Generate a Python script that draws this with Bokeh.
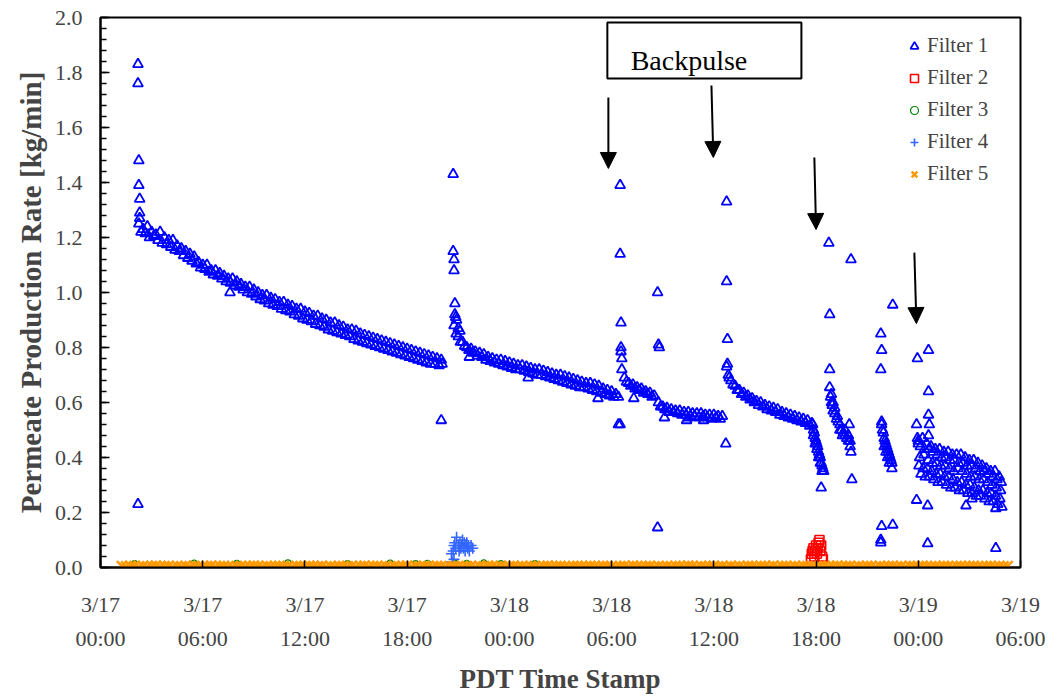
import numpy as np
from bokeh.plotting import figure
from bokeh.models import (Range1d, LinearAxis, FixedTicker, NumeralTickFormatter,
                          Legend, LegendItem, BoxAnnotation, Label, Arrow, NormalHead)
from bokeh.embed import file_html
from bokeh.resources import INLINE

# Time axis is hours since 3/17 00:00 (PDT)
TICK_HOURS = [0, 6, 12, 18, 24, 30, 36, 42, 48, 54]
TICK_DATES = ["3/17", "3/17", "3/17", "3/17", "3/18", "3/18", "3/18", "3/18", "3/19", "3/19"]
TICK_TIMES = ["00:00", "06:00", "12:00", "18:00", "00:00", "06:00", "12:00", "18:00", "00:00", "06:00"]

LOG_STEP_H = 0.25  # data logger interval, hours

# ---- Filter 1 permeate rate [kg/min] ----
# each run is logged by two channels, the second one offset by half an interval
F1_RUN1_START = 2.25
F1_RUN1 = [1.25, 1.23, 1.24, 1.22, 1.21, 1.22, 1.20, 1.19, 1.19, 1.17, 1.16, 1.15,
           1.14, 1.13, 1.11, 1.10, 1.10, 1.08, 1.08, 1.07, 1.06, 1.05, 1.05, 1.04,
           1.03, 1.02, 1.02, 1.01, 1.00, 0.99, 0.99, 0.98, 0.975, 0.965, 0.965, 0.955,
           0.95, 0.94, 0.94, 0.93, 0.925, 0.915, 0.915, 0.905, 0.90, 0.89, 0.89, 0.88,
           0.875, 0.865, 0.865, 0.86, 0.85, 0.845, 0.84, 0.835, 0.83, 0.825, 0.82, 0.815,
           0.81, 0.805, 0.80, 0.795, 0.79, 0.785, 0.78, 0.775, 0.77, 0.765, 0.76, 0.755]
F1_RUN1_B = [1.22, 1.215, 1.20, 1.205, 1.19, 1.18, 1.175, 1.165, 1.155, 1.15, 1.135, 1.125,
             1.115, 1.105, 1.09, 1.085, 1.075, 1.065, 1.06, 1.05, 1.04, 1.035, 1.025, 1.02,
             1.01, 1.00, 0.995, 0.985, 0.975, 0.97, 0.96, 0.955, 0.95, 0.94, 0.935, 0.93,
             0.92, 0.915, 0.905, 0.90, 0.895, 0.885, 0.88, 0.875, 0.865, 0.86, 0.855, 0.85,
             0.845, 0.84, 0.83, 0.825, 0.82, 0.815, 0.81, 0.805, 0.80, 0.795, 0.79, 0.785,
             0.78, 0.775, 0.77, 0.765, 0.76, 0.755, 0.75, 0.745, 0.74, 0.74, 0.735]

F1_RUN2_START = 20.75
F1_RUN2 = [0.88, 0.84, 0.82, 0.80, 0.795, 0.785, 0.78, 0.775, 0.765, 0.76, 0.755, 0.755,
           0.75, 0.745, 0.74, 0.735, 0.735, 0.73, 0.725, 0.72, 0.72, 0.715, 0.71, 0.705,
           0.70, 0.70, 0.695, 0.69, 0.685, 0.68, 0.675, 0.67, 0.67, 0.665, 0.66, 0.65,
           0.645, 0.64, 0.63]
F1_RUN2_B = [0.85, 0.82, 0.805, 0.79, 0.78, 0.77, 0.765, 0.755, 0.75, 0.745, 0.74, 0.735,
             0.73, 0.725, 0.72, 0.72, 0.715, 0.71, 0.705, 0.70, 0.70, 0.695, 0.69, 0.685,
             0.68, 0.675, 0.67, 0.665, 0.66, 0.655, 0.655, 0.65, 0.645, 0.64, 0.635, 0.63,
             0.625, 0.62]

F1_RUN3A_START = 30.75
F1_RUN3A = [0.69, 0.67, 0.665, 0.655, 0.65, 0.64, 0.635, 0.625]
F1_RUN3A_B = [0.675, 0.66, 0.65, 0.645, 0.635, 0.63, 0.62]

F1_RUN3B_START = 32.75
F1_RUN3B = [0.60, 0.585, 0.58, 0.575, 0.57, 0.57, 0.565, 0.565, 0.56, 0.56, 0.56, 0.555,
            0.555, 0.555, 0.55, 0.55]
F1_RUN3B_B = [0.585, 0.575, 0.565, 0.565, 0.56, 0.555, 0.555, 0.55, 0.55, 0.545, 0.55,
              0.545, 0.54, 0.545, 0.54]

F1_RUN4_START = 37.0
F1_RUN4 = [0.68, 0.66, 0.645, 0.635, 0.625, 0.615, 0.605, 0.60, 0.59, 0.585, 0.58, 0.575,
           0.565, 0.56, 0.555, 0.55, 0.545, 0.54, 0.535, 0.525]
F1_RUN4_B = [0.665, 0.645, 0.63, 0.62, 0.61, 0.60, 0.59, 0.585, 0.575, 0.57, 0.565, 0.555,
             0.55, 0.545, 0.54, 0.535, 0.53, 0.525, 0.515]

F1_CLOUD_START = 48.0
F1_CLOUD_HI = [0.46, 0.47, 0.45, 0.44, 0.43, 0.43, 0.42, 0.42, 0.41, 0.41, 0.41, 0.40,
               0.39, 0.39, 0.38, 0.37, 0.36, 0.35, 0.35, 0.33]
F1_CLOUD_HI2 = [0.44, 0.43, 0.43, 0.42, 0.41, 0.40, 0.40, 0.39, 0.39, 0.38, 0.38, 0.37,
                0.37, 0.36, 0.35, 0.35, 0.34, 0.33, 0.32, 0.31]
F1_CLOUD_MID = [0.40, 0.41, 0.39, 0.38, 0.38, 0.37, 0.37, 0.36, 0.35, 0.36, 0.35, 0.34,
                0.33, 0.33, 0.32, 0.32, 0.31, 0.30, 0.29, 0.28]
F1_CLOUD_LO2 = [0.37, 0.36, 0.36, 0.35, 0.34, 0.34, 0.33, 0.33, 0.32, 0.31, 0.31, 0.30,
                0.30, 0.29, 0.28, 0.28, 0.27, 0.27, 0.26, 0.25]
F1_CLOUD_LO = [0.34, 0.33, 0.33, 0.32, 0.31, 0.31, 0.30, 0.29, 0.29, 0.28, 0.28, 0.27,
               0.27, 0.26, 0.26, 0.25, 0.24, 0.24, 0.23, 0.22]

# irregular readings: start-up spikes, post-backpulse transients and outliers
F1_EXTRA_T = [2.2, 2.2, 2.25, 2.25, 2.3, 2.3, 2.3, 2.2, 7.6, 20.0, 20.05,
              20.7, 20.7, 20.75, 20.75, 20.8, 20.8, 20.85, 20.9, 21.0, 21.1, 21.65, 25.1, 29.2,
              30.4, 30.4, 30.5, 30.5, 30.55, 30.55, 30.55, 30.6, 30.6, 30.5, 31.3,
              32.7, 32.75, 32.8, 32.7, 33.1, 34.4, 34.5, 35.4,
              36.75, 36.75, 36.8, 36.8, 36.75, 36.7, 36.85, 36.9,
              41.8, 41.85, 41.9, 41.95, 42.0, 42.05, 42.1, 42.15, 42.2, 42.25, 42.3, 42.35,
              42.4, 42.45, 42.3, 41.85, 41.95, 42.05, 42.15, 42.25, 42.35,
              42.75, 42.8, 42.8, 42.8, 42.85, 42.9, 42.95, 43.0, 43.1, 43.2, 43.3, 43.4,
              43.5, 43.6, 43.7, 43.8, 43.9, 44.0, 44.05, 42.9, 43.0, 43.1, 43.25, 43.4,
              43.55, 43.7, 43.9, 44.0, 44.05, 43.95, 44.1,
              45.8, 45.85, 45.8, 45.85, 45.85, 45.9, 45.95, 46.0, 46.05, 46.1, 46.15, 46.2,
              46.25, 46.3, 46.35, 46.4, 46.45, 46.45, 46.0, 46.1, 46.2, 46.3, 46.5, 45.85,
              46.5, 45.8, 45.8,
              47.95, 47.9, 47.95, 48.0, 47.9, 48.6, 48.6, 48.6, 48.65, 48.6, 48.55, 48.55,
              50.8, 51.15, 52.55, 52.55]
F1_EXTRA_V = [1.83, 1.76, 1.48, 1.39, 1.34, 1.29, 1.27, 0.23, 1.00, 0.535, 0.74,
              1.43, 1.15, 1.12, 1.08, 0.96, 0.92, 0.91, 0.90, 0.87, 0.86, 0.765, 0.69, 0.615,
              0.62, 0.52, 1.39, 1.14, 0.89, 0.80, 0.785, 0.76, 0.72, 0.52, 0.615,
              1.00, 0.81, 0.80, 0.145, 0.545, 0.535, 0.545, 0.535,
              1.33, 1.04, 0.83, 0.74, 0.73, 0.45, 0.70, 0.69,
              0.52, 0.50, 0.49, 0.47, 0.46, 0.45, 0.44, 0.42, 0.41, 0.40, 0.38, 0.37,
              0.36, 0.35, 0.29, 0.48, 0.45, 0.43, 0.40, 0.38, 0.35,
              1.18, 0.92, 0.72, 0.655, 0.62, 0.60, 0.59, 0.57, 0.56, 0.54, 0.53, 0.52,
              0.50, 0.49, 0.48, 0.47, 0.46, 0.44, 0.42, 0.63, 0.60, 0.58, 0.55, 0.50,
              0.48, 0.50, 0.48, 0.46, 1.12, 0.52, 0.32,
              0.85, 0.79, 0.72, 0.53, 0.52, 0.50, 0.49, 0.47, 0.46, 0.45, 0.44, 0.43,
              0.42, 0.41, 0.40, 0.39, 0.38, 0.36, 0.44, 0.42, 0.40, 0.38, 0.955, 0.15,
              0.155, 0.09, 0.10,
              0.76, 0.52, 0.47, 0.45, 0.245, 0.79, 0.64, 0.555, 0.52, 0.48, 0.225, 0.087,
              0.225, 0.25, 0.07, 0.215]

# ---- Filter 2 (red cluster near 3/18 18:00) ----
F2_T = [41.7, 41.75, 41.8, 41.85, 41.9, 41.95, 42.0, 42.05, 42.1, 42.15, 42.2, 42.25,
        42.3, 42.35, 42.4]
F2_V = [0.03, 0.05, 0.06, 0.07, 0.04, 0.06, 0.08, 0.05, 0.07, 0.09, 0.10, 0.06,
        0.08, 0.04, 0.03]

# ---- Filter 3 ----
F3_T = [2.0, 5.5, 8.0, 11.0, 14.5, 17.0, 18.5, 19.2, 20.8, 21.5, 22.5, 23.5, 25.5]
F3_V = [0.014, 0.016, 0.015, 0.017, 0.014, 0.016, 0.014, 0.015, 0.016, 0.015, 0.017,
        0.014, 0.014]

# ---- Filter 4 (cluster after the 3/17 evening restart) ----
F4_T = [20.6, 20.65, 20.7, 20.75, 20.75, 20.8, 20.85, 20.9, 21.0, 21.05, 21.1, 21.15,
        21.2, 21.25, 21.3, 21.35, 21.4, 21.45, 21.5, 21.55, 21.6, 21.65, 21.75, 21.85]
F4_V = [0.05, 0.02, 0.06, 0.08, 0.03, 0.09, 0.07, 0.11, 0.08, 0.06, 0.09, 0.07,
        0.08, 0.10, 0.07, 0.09, 0.06, 0.08, 0.09, 0.07, 0.08, 0.06, 0.08, 0.07]

# ---- Filter 5 (logged from 01:15) ----
F5_START = 1.25
F5 = [0.005, 0.004, 0.006, 0.005, 0.003, 0.006, 0.004, 0.005, 0.007, 0.004, 0.005, 0.006, 0.003, 0.005, 0.004, 0.006,
      0.004, 0.006, 0.005, 0.003, 0.005, 0.007, 0.004, 0.005, 0.006, 0.004, 0.003, 0.005, 0.006, 0.004, 0.005, 0.007,
      0.005, 0.003, 0.006, 0.004, 0.005, 0.006, 0.005, 0.004, 0.003, 0.006, 0.005, 0.004, 0.007, 0.005, 0.004, 0.006,
      0.003, 0.005, 0.004, 0.006, 0.005, 0.004, 0.006, 0.003, 0.005, 0.007, 0.004, 0.005, 0.006, 0.004, 0.005, 0.003,
      0.006, 0.004, 0.005, 0.007, 0.003, 0.005, 0.004, 0.006, 0.005, 0.004, 0.006, 0.005, 0.003, 0.004, 0.006, 0.005,
      0.004, 0.005, 0.006, 0.003, 0.005, 0.004, 0.007, 0.005, 0.004, 0.006, 0.003, 0.005, 0.006, 0.004, 0.005, 0.004,
      0.006, 0.005, 0.003, 0.005, 0.007, 0.004, 0.005, 0.006, 0.004, 0.003, 0.005, 0.006, 0.005, 0.004, 0.006, 0.005,
      0.004, 0.006, 0.005, 0.004, 0.003, 0.005, 0.006, 0.004, 0.007, 0.005, 0.004, 0.005, 0.006, 0.003, 0.005, 0.004,
      0.005, 0.004, 0.006, 0.005, 0.004, 0.007, 0.005, 0.003, 0.006, 0.004, 0.005, 0.006, 0.004, 0.005, 0.003, 0.006,
      0.004, 0.005, 0.003, 0.006, 0.005, 0.004, 0.006, 0.005, 0.004, 0.007, 0.003, 0.005, 0.006, 0.004, 0.005, 0.004,
      0.006, 0.004, 0.005, 0.003, 0.006, 0.005, 0.004, 0.005, 0.007, 0.004, 0.005, 0.006, 0.003, 0.005, 0.004, 0.006,
      0.005, 0.003, 0.006, 0.004, 0.005, 0.006, 0.004, 0.005, 0.003, 0.006, 0.005, 0.004, 0.006, 0.005, 0.004, 0.005,
      0.004, 0.006, 0.005, 0.003, 0.005, 0.006, 0.004, 0.005, 0.006, 0.004, 0.003, 0.005, 0.006, 0.004, 0.005, 0.004,
      0.005]

# Backpulse events: arrow start/end time [h] and top/tip level [kg/min]
BACKPULSE_H_START = [29.81, 35.86, 41.90, 47.77]
BACKPULSE_H_END = [29.81, 35.97, 42.00, 47.89]
BACKPULSE_Y_TOP = [1.709, 1.753, 1.491, 1.145]
BACKPULSE_Y_TIP = [1.451, 1.491, 1.229, 0.887]


def logged(start, values, step=LOG_STEP_H):
    return [start + i * step for i in range(len(values))]


HALF = LOG_STEP_H / 2
f1_t, f1_v = [], []
for start, vals in [(F1_RUN1_START, F1_RUN1), (F1_RUN1_START + HALF, F1_RUN1_B),
                    (F1_RUN2_START, F1_RUN2), (F1_RUN2_START + HALF, F1_RUN2_B),
                    (F1_RUN3A_START, F1_RUN3A), (F1_RUN3A_START + HALF, F1_RUN3A_B),
                    (F1_RUN3B_START, F1_RUN3B), (F1_RUN3B_START + HALF, F1_RUN3B_B),
                    (F1_RUN4_START, F1_RUN4), (F1_RUN4_START + HALF, F1_RUN4_B),
                    (F1_CLOUD_START, F1_CLOUD_HI), (F1_CLOUD_START + 0.12, F1_CLOUD_HI2),
                    (F1_CLOUD_START + 0.08, F1_CLOUD_MID), (F1_CLOUD_START + 0.04, F1_CLOUD_LO2),
                    (F1_CLOUD_START + 0.16, F1_CLOUD_LO)]:
    f1_t += logged(start, vals)
    f1_v += vals
f1_t += F1_EXTRA_T
f1_v += F1_EXTRA_V

FONT = "Liberation Serif"

p = figure(width=1054, height=696, x_range=Range1d(0, 54), y_range=Range1d(0, 2),
           output_backend="svg", toolbar_location=None,
           min_border_left=100, min_border_right=34, min_border_top=17, min_border_bottom=129)
p.background_fill_color = "white"
p.border_fill_color = "white"
p.xgrid.visible = False
p.ygrid.visible = False
p.outline_line_color = "black"
p.outline_line_width = 2
p.outline_line_alpha = 1.0

# y axis
ya = p.yaxis[0]
ya.ticker = FixedTicker(ticks=[round(0.2 * i, 1) for i in range(11)],
                        minor_ticks=[round(0.04 * i, 2) for i in range(51)])
ya.formatter = NumeralTickFormatter(format="0.0")
ya.axis_label = "Permeate Production Rate [kg/min]"
ya.axis_label_text_font = FONT
ya.axis_label_text_font_style = "bold"
ya.axis_label_text_font_size = "29px"
ya.axis_label_standoff = 5
ya.major_label_text_font = FONT
ya.major_label_text_font_size = "22px"
ya.major_label_standoff = 18
ya.major_tick_in = 9
ya.major_tick_out = 0
ya.minor_tick_in = 6
ya.minor_tick_out = 0
ya.axis_line_width = 2
ya.major_tick_line_width = 1.5
ya.minor_tick_line_width = 1.5

# x axis: date row
xa = p.xaxis[0]
xa.ticker = FixedTicker(ticks=TICK_HOURS)
xa.major_label_overrides = {h: d for h, d in zip(TICK_HOURS, TICK_DATES)}
xa.major_label_text_font = FONT
xa.major_label_text_font_size = "22px"
xa.major_label_standoff = 24
xa.major_tick_in = 7
xa.major_tick_out = 0
xa.minor_tick_line_color = None
xa.axis_line_width = 2
xa.major_tick_line_width = 1.5

# x axis: time-of-day row and title
xa2 = LinearAxis(ticker=FixedTicker(ticks=TICK_HOURS),
                 major_label_overrides={h: t for h, t in zip(TICK_HOURS, TICK_TIMES)},
                 axis_line_color=None, major_tick_line_color=None, minor_tick_line_color=None,
                 major_label_text_font=FONT, major_label_text_font_size="22px",
                 major_label_standoff=0,
                 axis_label="PDT Time Stamp", axis_label_text_font=FONT,
                 axis_label_text_font_style="bold", axis_label_text_font_size="27px",
                 axis_label_standoff=10)
p.add_layout(xa2, "below")

r1 = p.scatter(f1_t, f1_v, marker="triangle", size=10, line_color="#0000FF",
               fill_color=None, line_width=1.8)
r2 = p.scatter(F2_T, F2_V, marker="square", size=9, line_color="#FF0000",
               fill_color=None, line_width=1.6)
r3 = p.scatter(F3_T, F3_V, marker="circle", size=6, line_color="#008000",
               fill_color=None, line_width=1.2)
r4 = p.scatter(F4_T, F4_V, marker="cross", size=11, line_color="#3366FF",
               line_width=1.6)
r5 = p.scatter(logged(F5_START, F5), F5, marker="x", size=14, line_color="#FF9900",
               line_width=2.5)

legend = Legend(items=[LegendItem(label="Filter 1", renderers=[r1]),
                       LegendItem(label="Filter 2", renderers=[r2]),
                       LegendItem(label="Filter 3", renderers=[r3]),
                       LegendItem(label="Filter 4", renderers=[r4]),
                       LegendItem(label="Filter 5", renderers=[r5])],
                location=(804, 381), orientation="vertical",
                label_text_font=FONT, label_text_font_size="21px",
                glyph_width=20, glyph_height=20, label_height=20, spacing=7,
                label_standoff=3, padding=0, margin=0,
                border_line_color=None, background_fill_alpha=0)
p.add_layout(legend)

# Backpulse call-out box and arrows
p.add_layout(BoxAnnotation(left=29.75, right=41.14, bottom=1.778, top=1.982,
                           fill_color="white", fill_alpha=1.0,
                           line_color="black", line_alpha=1.0, line_width=2))
p.add_layout(Label(x=34.54, y=1.844, text="Backpulse", text_align="center",
                   text_baseline="alphabetic", text_font=FONT, text_font_size="28px",
                   text_color="black"))
for xs, xe, ys, ye in zip(BACKPULSE_H_START, BACKPULSE_H_END, BACKPULSE_Y_TOP, BACKPULSE_Y_TIP):
    p.add_layout(Arrow(x_start=xs, y_start=ys, x_end=xe, y_end=ye, line_width=2,
                       line_color="black",
                       end=NormalHead(size=16, fill_color="black", line_color="black")))

open("out.html", "w").write(file_html(p, INLINE))
